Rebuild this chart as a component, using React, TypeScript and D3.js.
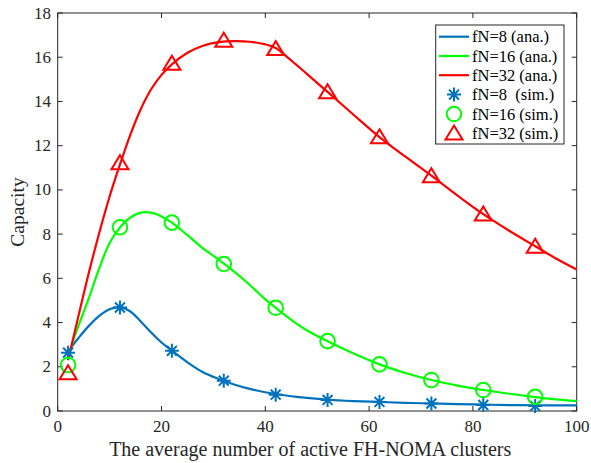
import React from "react";
import * as d3 from "d3";

// Analytical curves (x, capacity)
const anaX = [2, 3, 4, 6, 8, 10, 12, 14, 16, 18, 20, 22, 25, 28, 31, 34, 37, 40, 42, 44, 46, 48, 52, 57, 62, 67, 72, 77, 82, 87, 92, 96, 100];
const anaFN8 = [2.65, 3.0, 3.3, 3.85, 4.3, 4.6, 4.7, 4.5, 4.05, 3.55, 3.1, 2.73, 2.2, 1.75, 1.45, 1.2, 1.0, 0.85, 0.77, 0.7, 0.64, 0.59, 0.51, 0.45, 0.41, 0.37, 0.34, 0.31, 0.29, 0.27, 0.26, 0.255, 0.25];
const anaFN16 = [2.4, 3.2, 3.85, 5.1, 6.45, 7.6, 8.3, 8.75, 8.97, 8.97, 8.8, 8.52, 7.95, 7.35, 6.85, 6.3, 5.7, 5.05, 4.67, 4.3, 3.95, 3.65, 3.15, 2.6, 2.11, 1.72, 1.4, 1.15, 0.95, 0.78, 0.63, 0.53, 0.45];
const anaFN32 = [2.3, 3.3, 4.3, 6.25, 8.05, 9.7, 11.15, 12.5, 13.65, 14.55, 15.2, 15.68, 16.2, 16.52, 16.68, 16.73, 16.7, 16.58, 16.42, 16.05, 15.65, 15.25, 14.43, 13.4, 12.39, 11.5, 10.64, 9.75, 8.9, 8.15, 7.45, 6.9, 6.4];

// Simulation points
const simX = [2, 12, 22, 32, 42, 52, 62, 72, 82, 92];
const simFN8 = [2.64, 4.68, 2.72, 1.37, 0.74, 0.5, 0.41, 0.34, 0.27, 0.23];
const simFN16 = [2.08, 8.31, 8.52, 6.65, 4.67, 3.16, 2.11, 1.4, 0.95, 0.64];
const simFN32 = [1.72, 11.22, 15.72, 16.76, 16.38, 14.43, 12.39, 10.63, 8.9, 7.44];

const xTicks = [0, 20, 40, 60, 80, 100];
const yTicks = [0, 2, 4, 6, 8, 10, 12, 14, 16, 18];

const legendLabels = ["fN=8 (ana.)", "fN=16 (ana.)", "fN=32 (ana.)", "fN=8\u00a0 (sim.)", "fN=16 (sim.)", "fN=32 (sim.)"];

const BLUE = "#0072BD";
const GREEN = "#00FF00";
const RED = "#FF0000";
const AXIS = "#262626";
const FONT = "Liberation Serif";

const W = 591, H = 463;
const L = 57.7, R = 576.7, T = 13, B = 411;

const starPath = (s: number) => {
  const d = s * 0.7071;
  return `M0,${-s}L0,${s}M${-s},0L${s},0M${-d},${-d}L${d},${d}M${-d},${d}L${d},${-d}`;
};
const triPath = (w: number, h: number) => `M0,${-h * 0.55}L${w / 2},${h * 0.45}L${-w / 2},${h * 0.45}Z`;

export default function App() {
  const x = d3.scaleLinear().domain([0, 100]).range([L, R]);
  const y = d3.scaleLinear().domain([0, 18]).range([B, T]);
  const line = d3.line<[number, number]>().x(d => x(d[0])).y(d => y(d[1])).curve(d3.curveCatmullRom.alpha(0.5));
  const series = [
    { vals: anaFN8, color: BLUE },
    { vals: anaFN16, color: GREEN },
    { vals: anaFN32, color: RED },
  ];
  const legendRows = [36.7, 56, 75.2, 94.6, 114, 133.3];
  const lx0 = 439, lx1 = 469, ltx = 472;
  const tf = { fontFamily: FONT };
  return (
    <svg width={W} height={H} style={{ position: "absolute", left: 0, top: 0, background: "#fff" }}>
      <rect x={0} y={0} width={W} height={H} fill="#fff" />
      <rect x={L} y={T} width={R - L} height={B - T} fill="none" stroke={AXIS} strokeWidth={1} />
      {xTicks.map(t => (
        <g key={"xt" + t}>
          <line x1={x(t)} x2={x(t)} y1={B} y2={B - 5} stroke={AXIS} />
          <line x1={x(t)} x2={x(t)} y1={T} y2={T + 5} stroke={AXIS} />
          <text x={x(t)} y={432} textAnchor="middle" fontSize={17} fill={AXIS} style={tf}>{t}</text>
        </g>
      ))}
      {yTicks.map(t => (
        <g key={"yt" + t}>
          <line x1={L} x2={L + 5} y1={y(t)} y2={y(t)} stroke={AXIS} />
          <line x1={R} x2={R - 5} y1={y(t)} y2={y(t)} stroke={AXIS} />
          <text x={51} y={y(t) + 5.5} textAnchor="end" fontSize={17} fill={AXIS} style={tf}>{t}</text>
        </g>
      ))}
      <text x={(L + R) / 2 - 7} y={456} textAnchor="middle" fontSize={20} fill={AXIS} style={tf}>The average number of active FH-NOMA clusters</text>
      <text transform={`translate(24,${(T + B) / 2}) rotate(-90)`} textAnchor="middle" fontSize={19.5} fill={AXIS} style={tf}>Capacity</text>
      {series.map((s, i) => (
        <path key={"l" + i} d={line(anaX.map((v, j) => [v, s.vals[j]]) as [number, number][]) || ""} fill="none" stroke={s.color} strokeWidth={2.2} />
      ))}
      {simX.map((v, j) => (
        <path key={"s8" + j} d={starPath(7)} transform={`translate(${x(v)},${y(simFN8[j])})`} stroke={BLUE} strokeWidth={2} fill="none" />
      ))}
      {simX.map((v, j) => (
        <circle key={"s16" + j} cx={x(v)} cy={y(simFN16[j])} r={7.3} stroke={GREEN} strokeWidth={2} fill="none" />
      ))}
      {simX.map((v, j) => (
        <path key={"s32" + j} d={triPath(17, 14)} transform={`translate(${x(v)},${y(simFN32[j])})`} stroke={RED} strokeWidth={2} fill="none" />
      ))}
      <rect x={435.7} y={25} width={128.3} height={119} fill="#fff" stroke={AXIS} strokeWidth={1} />
      {[BLUE, GREEN, RED].map((c, i) => (
        <line key={"ll" + i} x1={lx0} x2={lx1} y1={legendRows[i]} y2={legendRows[i]} stroke={c} strokeWidth={2.2} />
      ))}
      <path d={starPath(7)} transform={`translate(${(lx0 + lx1) / 2},${legendRows[3]})`} stroke={BLUE} strokeWidth={2} fill="none" />
      <circle cx={(lx0 + lx1) / 2} cy={legendRows[4]} r={7.3} stroke={GREEN} strokeWidth={2} fill="none" />
      <path d={triPath(17, 14)} transform={`translate(${(lx0 + lx1) / 2},${legendRows[5]})`} stroke={RED} strokeWidth={2} fill="none" />
      {legendLabels.map((t, i) => (
        <text key={"lt" + i} x={ltx} y={legendRows[i] + 5.5} fontSize={16.5} fill="#000" style={tf}>{t}</text>
      ))}
    </svg>
  );
}
